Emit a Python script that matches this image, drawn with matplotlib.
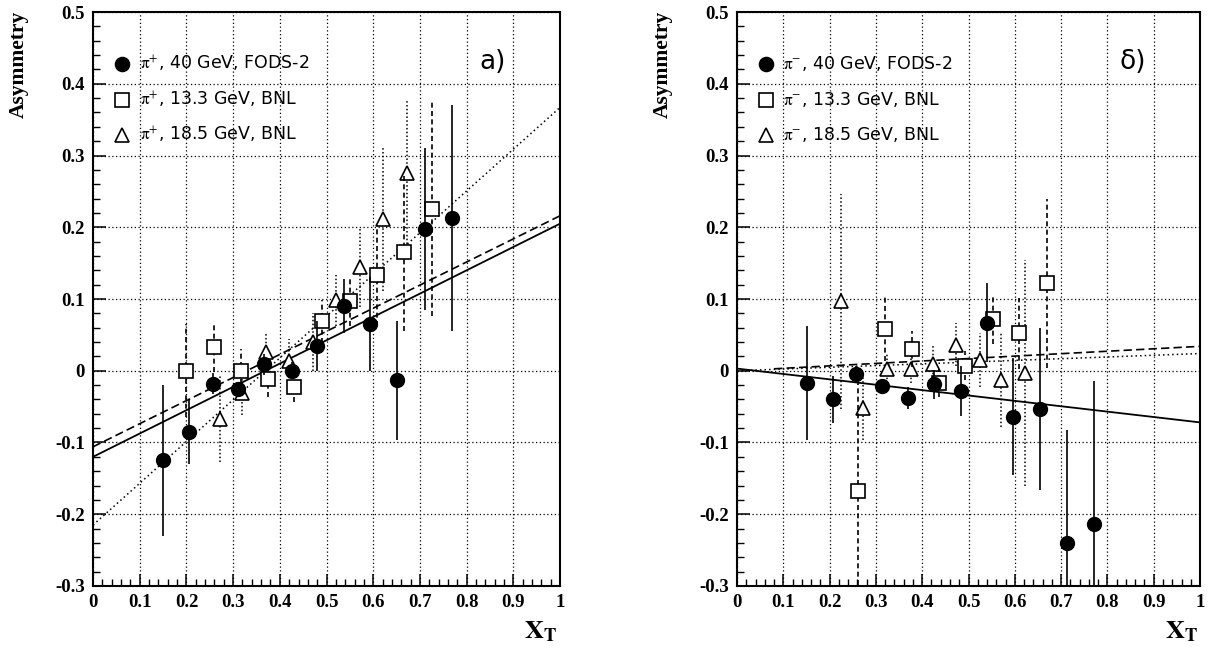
import matplotlib
matplotlib.use("Agg")
import matplotlib.pyplot as plt
from matplotlib.ticker import MultipleLocator, FixedLocator
import numpy as np

plt.rcParams['mathtext.fontset'] = 'stix'

# ---- panel a) pi+ ----
a_fods_x = [0.15, 0.205, 0.257, 0.31, 0.366, 0.425, 0.48, 0.538, 0.593, 0.651, 0.711, 0.769]
a_fods_y = [-0.125, -0.085, -0.018, -0.026, 0.009, 0.0, 0.034, 0.09, 0.065, -0.013, 0.197, 0.213]
a_fods_e = [0.105, 0.045, 0.015, 0.01, 0.015, 0.012, 0.035, 0.038, 0.065, 0.083, 0.113, 0.157]

a_b13_x = [0.2, 0.26, 0.317, 0.375, 0.43, 0.49, 0.55, 0.607, 0.666, 0.726]
a_b13_y = [0.0, 0.033, 0.0, -0.011, -0.022, 0.069, 0.097, 0.133, 0.166, 0.226]
a_b13_e = [0.065, 0.035, 0.03, 0.025, 0.022, 0.03, 0.035, 0.07, 0.11, 0.15]

a_b18_x = [0.272, 0.32, 0.37, 0.42, 0.47, 0.52, 0.572, 0.62, 0.672]
a_b18_y = [-0.067, -0.031, 0.026, 0.014, 0.04, 0.098, 0.144, 0.211, 0.276]
a_b18_e = [0.06, 0.03, 0.025, 0.03, 0.04, 0.035, 0.055, 0.1, 0.1]

# fit lines: (slope, intercept)
a_fit_fods = (0.325, -0.12)
a_fit_b13 = (0.322, -0.106)
a_fit_b18 = (0.582, -0.215)

# ---- panel b) pi- ----
b_fods_x = [0.152, 0.208, 0.258, 0.314, 0.37, 0.426, 0.483, 0.54, 0.597, 0.654, 0.712, 0.77]
b_fods_y = [-0.017, -0.04, -0.005, -0.021, -0.038, -0.019, -0.028, 0.067, -0.064, -0.053, -0.24, -0.214]
b_fods_e = [0.08, 0.033, 0.012, 0.01, 0.015, 0.02, 0.035, 0.055, 0.082, 0.113, 0.158, 0.2]

b_b13_x = [0.262, 0.32, 0.378, 0.437, 0.493, 0.552, 0.608, 0.669]
b_b13_y = [-0.168, 0.058, 0.03, -0.017, 0.007, 0.072, 0.052, 0.122]
b_b13_e = [0.165, 0.045, 0.025, 0.02, 0.02, 0.035, 0.05, 0.118]

b_b18_x = [0.225, 0.273, 0.324, 0.375, 0.424, 0.474, 0.524, 0.571, 0.621]
b_b18_y = [0.097, -0.052, 0.003, 0.003, 0.01, 0.036, 0.015, -0.013, -0.003]
b_b18_e = [0.15, 0.045, 0.02, 0.02, 0.025, 0.03, 0.037, 0.065, 0.157]

b_fit_fods = (-0.075, 0.003)
b_fit_b13 = (0.034, 0.0)
b_fit_b18 = (0.024, 0.0)

a_labels = [r"$\mathrm{π}^{+}$, 40 GeV, FODS-2", r"$\mathrm{π}^{+}$, 13.3 GeV, BNL",
            r"$\mathrm{π}^{+}$, 18.5 GeV, BNL"]
b_labels = [r"$\mathrm{π}^{-}$, 40 GeV, FODS-2", r"$\mathrm{π}^{-}$, 13.3 GeV, BNL",
            r"$\mathrm{π}^{-}$, 18.5 GeV, BNL"]

x_ticks = [0, 0.1, 0.2, 0.3, 0.4, 0.5, 0.6, 0.7, 0.8, 0.9, 1]
x_ticklabels = ["0", "0.1", "0.2", "0.3", "0.4", "0.5", "0.6", "0.7", "0.8", "0.9", "1"]
y_ticks = [-0.3, -0.2, -0.1, 0, 0.1, 0.2, 0.3, 0.4, 0.5]
y_ticklabels = ["-0.3", "-0.2", "-0.1", "0", "0.1", "0.2", "0.3", "0.4", "0.5"]

serif = "Liberation Serif"


def draw_fit(ax, fit, ls, lw, x0=0.0):
    xx = np.linspace(x0, 1, 50)
    ax.plot(xx, np.polyval(fit, xx), color='black', ls=ls, lw=lw, zorder=2)


def draw_panel(ax, d, labels, tag):
    fods, b13, b18, fits = d
    # error bars
    e = ax.errorbar(b18[0], b18[1], yerr=b18[2], fmt='^', ms=10, mfc='white', mec='black',
                    mew=1.2, ecolor='black', elinewidth=1.1, capsize=0, zorder=4)
    e[2][0].set_linestyle((0, (1, 1.5)))
    e = ax.errorbar(b13[0], b13[1], yerr=b13[2], fmt='s', ms=10, mfc='white', mec='black',
                    mew=1.2, ecolor='black', elinewidth=1.2, capsize=0, zorder=5)
    e[2][0].set_linestyle((0, (3, 2)))
    ax.errorbar(fods[0], fods[1], yerr=fods[2], fmt='o', ms=10, mfc='black', mec='black',
                ecolor='black', elinewidth=1.2, capsize=0, zorder=6)

    draw_fit(ax, fits[0], '-', 1.3)
    draw_fit(ax, fits[1], (0, (5, 2.5)), 1.2, fits[3])
    draw_fit(ax, fits[2], (0, (1, 2)), 1.1)

    # legend-like text
    leg_y = [0.428, 0.378, 0.329]
    mk = [dict(marker='o', mfc='black'), dict(marker='s', mfc='white'), dict(marker='^', mfc='white')]
    for yy, lab, m in zip(leg_y, labels, mk):
        ax.plot([0.062], [yy], ls='none', ms=10, mec='black', mew=1.2, **m, zorder=6)
        ax.text(0.1, yy, lab, fontsize=12.5, family='DejaVu Sans', va='center', ha='left')
    ax.text(0.855, 0.43, tag, fontsize=19, family='DejaVu Sans', va='center', ha='center')

    ax.set_xlim(0, 1)
    ax.set_ylim(-0.3, 0.5)
    ax.xaxis.set_major_locator(FixedLocator(x_ticks))
    ax.yaxis.set_major_locator(FixedLocator(y_ticks))
    ax.xaxis.set_minor_locator(MultipleLocator(0.02))
    ax.yaxis.set_minor_locator(MultipleLocator(0.02))
    ax.set_xticklabels(x_ticklabels, family=serif, fontweight='bold', fontsize=13.5)
    ax.set_yticklabels(y_ticklabels, family=serif, fontweight='bold', fontsize=13.5)
    ax.tick_params(which='major', direction='in', length=9, width=1.1, pad=6)
    ax.tick_params(which='minor', direction='in', length=5, width=1.0)
    ax.grid(True, which='major', ls=(0, (1, 2)), color='black', lw=0.9)
    for s in ax.spines.values():
        s.set_linewidth(1.5)


fig = plt.figure(figsize=(12.13, 6.5), dpi=100)
ax1 = fig.add_axes([0.0767, 0.0985, 0.385, 0.883])
ax2 = fig.add_axes([0.6076, 0.0985, 0.3817, 0.883])

draw_panel(ax1, ((a_fods_x, a_fods_y, a_fods_e), (a_b13_x, a_b13_y, a_b13_e),
                 (a_b18_x, a_b18_y, a_b18_e), (a_fit_fods, a_fit_b13, a_fit_b18, 0.0)),
           a_labels, "a)")
draw_panel(ax2, ((b_fods_x, b_fods_y, b_fods_e), (b_b13_x, b_b13_y, b_b13_e),
                 (b_b18_x, b_b18_y, b_b18_e), (b_fit_fods, b_fit_b13, b_fit_b18, 0.08)),
           b_labels, "δ)")

for xl, xx in [(0.007, 0.459), (0.538, 0.988)]:
    fig.text(xl, 0.983, "Asymmetry", rotation=90, va='top', ha='left',
             family=serif, fontweight='bold', fontsize=15.5)
    fig.text(xx, 0.008, r"$\mathbf{X_T}$", ha='right', va='bottom', fontsize=19)

fig.savefig("out.png", dpi=100)
